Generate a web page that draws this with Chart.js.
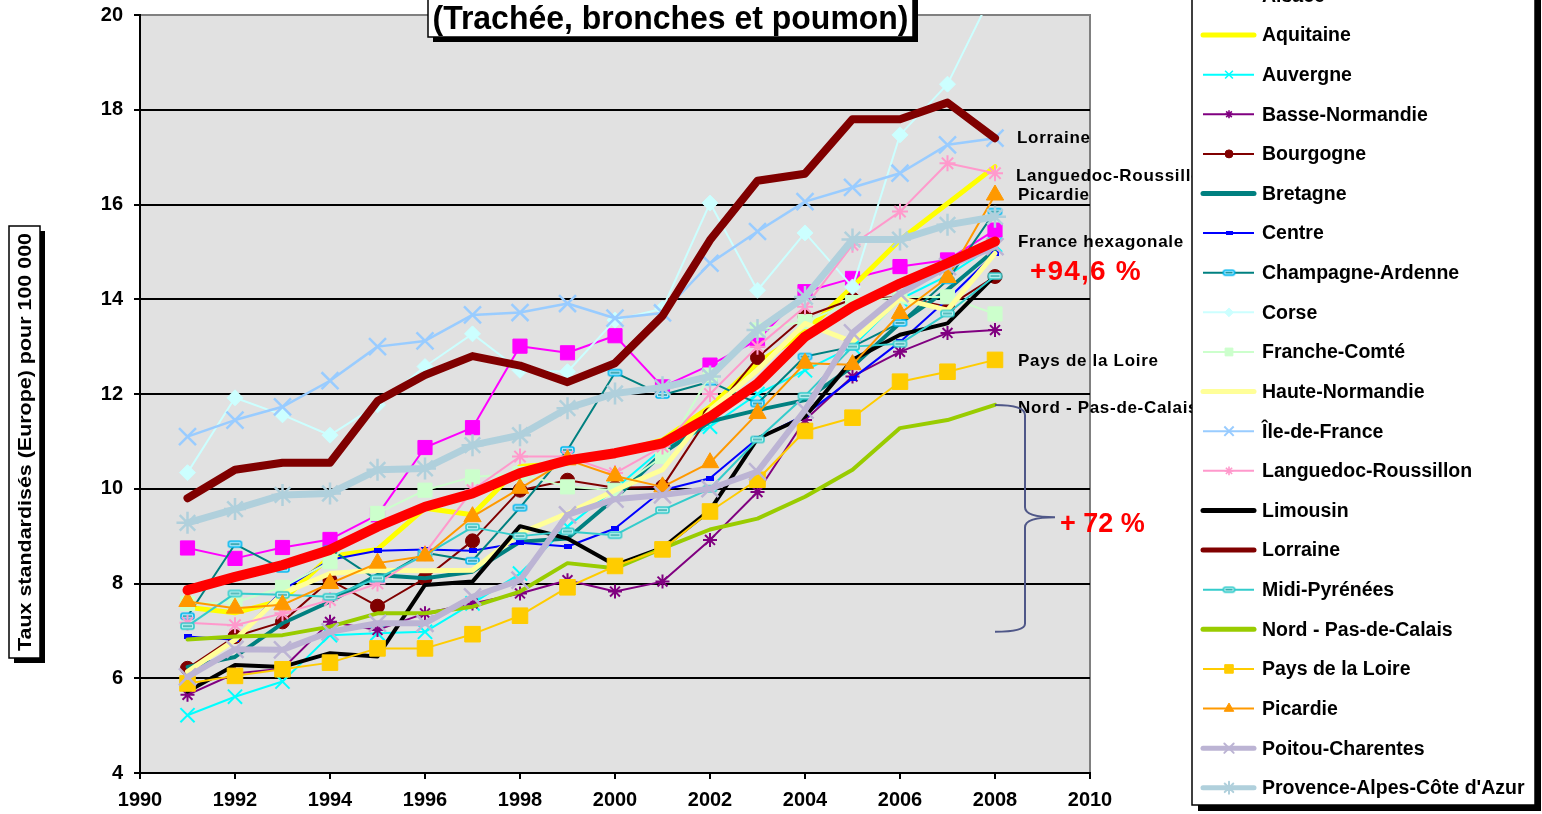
<!DOCTYPE html>
<html><head><meta charset="utf-8">
<script src="https://cdn.jsdelivr.net/npm/chart.js@4.4.1/dist/chart.umd.min.js"></script>
<style>html,body{margin:0;padding:0;background:#fff;overflow:hidden}canvas{display:block}</style>
</head><body>
<canvas id="c" width="1542" height="814"></canvas>
<script>
// ---------- DATA ----------
const years = [1991,1992,1993,1994,1995,1996,1997,1998,1999,2000,2001,2002,2003,2004,2005,2006,2007,2008];
const xTickValues = [1990,1992,1994,1996,1998,2000,2002,2004,2006,2008,2010];
const yTickValues = [4,6,8,10,12,14,16,18,20];

const alsace         = [8.75,8.53,8.76,8.93,9.45,10.87,11.29,13.01,12.87,13.23,12.15,12.61,13.14,14.16,14.44,14.69,14.83,15.46];
const aquitaine      = [7.5,7.38,7.65,8.57,8.72,9.59,9.45,10.47,10.54,10.75,11.03,11.73,12.65,13.31,14.26,15.25,16.02,16.8];
const auvergne       = [5.22,5.61,5.93,6.91,6.95,6.98,7.58,8.21,9.2,10.0,10.85,11.31,12.0,12.5,13.0,14.0,14.5,15.15];
const basseNormandie = [5.65,6.1,6.2,7.19,7.02,7.37,7.58,7.79,8.07,7.83,8.04,8.92,9.93,11.45,12.37,12.89,13.29,13.35];
const bourgogne      = [6.21,6.88,7.19,8.07,7.52,8.11,8.9,9.97,10.18,10.02,10.04,11.56,12.77,13.63,14.0,14.05,13.84,14.48];
const bretagne       = [6.24,6.45,7.16,7.62,8.18,8.11,8.25,8.88,8.95,9.8,10.75,11.42,11.66,11.87,12.58,13.5,14.2,15.04];
const centre         = [6.88,6.81,7.86,8.5,8.69,8.72,8.69,8.86,8.78,9.16,9.97,10.22,11.06,11.56,12.33,13.1,14.0,14.97];
const champagne      = [7.31,8.83,8.31,8.73,8.07,8.65,8.48,9.6,10.82,12.45,11.98,12.26,11.8,12.79,13.0,13.5,14.4,15.85];
const corse          = [10.34,11.92,11.56,11.13,11.77,12.58,13.27,12.5,12.47,13.56,13.8,16.03,14.19,15.4,14.26,17.47,18.54,20.57];
const francheComte   = [7.58,7.6,7.92,8.46,9.48,9.97,10.25,10.32,10.04,9.97,10.68,12.4,13.35,13.53,13.93,14.05,14.05,13.69];
const hauteNormandie = [6.14,6.81,7.79,8.21,8.28,8.27,8.28,9.06,9.48,9.97,10.4,11.66,12.5,13.49,13.1,14.02,13.77,14.97];
const ileDeFrance    = [11.1,11.45,11.73,12.28,13.0,13.12,13.67,13.72,13.91,13.6,13.71,14.76,15.43,16.06,16.36,16.66,17.26,17.4];
const languedoc      = [7.17,7.12,7.37,7.65,8.0,8.64,9.97,10.68,10.68,10.33,10.89,12.0,13.0,13.84,15.15,15.85,16.87,16.66];
const limousin       = [5.72,6.28,6.24,6.53,6.46,7.97,8.04,9.21,8.95,8.39,8.75,9.55,11.06,11.52,12.72,13.25,13.49,14.5];
const lorraine       = [9.8,10.4,10.55,10.55,11.85,12.4,12.8,12.6,12.25,12.65,13.65,15.25,16.5,16.65,17.8,17.8,18.15,17.4];
const midiPyrenees   = [7.1,7.79,7.76,7.72,8.11,8.6,9.19,9.0,9.1,9.02,9.55,10.0,11.04,11.96,13.0,13.06,13.7,14.49];
const nordPasDeCalais= [6.82,6.88,6.91,7.09,7.37,7.37,7.51,7.83,8.43,8.32,8.74,9.14,9.37,9.83,10.4,11.28,11.45,11.77];
const paysDeLaLoire  = [5.89,6.05,6.19,6.33,6.63,6.63,6.93,7.32,7.92,8.37,8.72,9.52,10.19,11.22,11.5,12.26,12.47,12.72];
const picardie       = [7.62,7.48,7.55,8.0,8.43,8.58,9.41,10.01,10.61,10.27,10.04,10.55,11.59,12.65,12.62,13.7,14.46,16.2];
const poitou         = [6.03,6.61,6.6,6.98,7.16,7.16,7.72,8.07,9.45,9.78,9.87,10.0,10.36,11.66,13.29,14.12,14.69,15.11];
const paca           = [9.28,9.57,9.87,9.9,10.4,10.43,10.92,11.13,11.7,12.01,12.14,12.37,13.35,14.05,15.26,15.26,15.57,15.74];
const franceHex      = [7.86,8.14,8.39,8.71,9.2,9.62,9.9,10.33,10.6,10.75,10.96,11.52,12.22,13.21,13.84,14.33,14.76,15.22];

const seriesNames = ['Alsace','Aquitaine','Auvergne','Basse-Normandie','Bourgogne','Bretagne','Centre','Champagne-Ardenne','Corse','Franche-Comté','Haute-Normandie','Île-de-France','Languedoc-Roussillon','Limousin','Lorraine','Midi-Pyrénées','Nord - Pas-de-Calais','Pays de la Loire','Picardie','Poitou-Charentes',"Provence-Alpes-Côte d'Azur",'France hexagonale'];
const seriesValues = [alsace,aquitaine,auvergne,basseNormandie,bourgogne,bretagne,centre,champagne,corse,francheComte,hauteNormandie,ileDeFrance,languedoc,limousin,lorraine,midiPyrenees,nordPasDeCalais,paysDeLaLoire,picardie,poitou,paca,franceHex];

// ---------- STYLES ----------
function dashMarker(outline, fill, inner, w, h){
  const c=document.createElement('canvas'); c.width=w+4; c.height=h+4;
  const g=c.getContext('2d');
  g.fillStyle=fill; g.strokeStyle=outline; g.lineWidth=1.6;
  g.beginPath(); g.roundRect(2,2,w,h,2); g.fill(); g.stroke();
  g.strokeStyle=inner; g.lineWidth=1.2; g.beginPath(); g.moveTo(4,2+h/2); g.lineTo(w,2+h/2); g.stroke();
  return c;
}
function solidMarker(fill,w,h){
  const c=document.createElement('canvas'); c.width=w; c.height=h;
  const g=c.getContext('2d'); g.fillStyle=fill; g.fillRect(0,0,w,h); return c;
}
const champMk = dashMarker('#00B8F0','#A8E8FF','#008080',13,6);
const midiMk  = dashMarker('#33CCCC','#B8F0F0','#1A9999',13,6);
const centreMk= solidMarker('#0000FF',8,5);
const champMkS = dashMarker('#00B8F0','#A8E8FF','#008080',11,5);
const midiMkS  = dashMarker('#33CCCC','#B8F0F0','#1A9999',11,5);
const centreMkS= solidMarker('#0000FF',7,4);

// [color, lineWidth, pointStyle, radius, pointFill, pointBorderWidth]
const seriesStyles = [
  ['#FF00FF',2,'rect',10,'#FF00FF',1],
  ['#FFFF00',5,false,0,null,0],
  ['#00FFFF',2,'crossRot',10,'#00FFFF',2],
  ['#800080',2,'star',7,'#800080',2],
  ['#800000',2,'circle',7,'#800000',1],
  ['#008080',4,false,0,null,0],
  ['#0000FF',2,centreMk,4,'#0000FF',1],
  ['#008080',2,champMk,6,'#00CCFF',1],
  ['#CCFFFF',2,'rectRot',8,'#CCFFFF',1],
  ['#CCFFCC',2,'rect',10,'#CCFFCC',1],
  ['#FFFF99',5,false,0,null,0],
  ['#99CCFF',2.5,'crossRot',12,'#99CCFF',2.5],
  ['#FF99CC',2,'star',8,'#FF99CC',2],
  ['#000000',4,false,0,null,0],
  ['#800000',8,false,0,null,0],
  ['#33CCCC',2,midiMk,6,'#33CCCC',1],
  ['#99CC00',4,false,0,null,0],
  ['#FFCC00',2,'rect',11,'#FFCC00',1],
  ['#FF9900',2,'triangle',10,'#FF9900',1],
  ['#BCB4D4',6,'crossRot',12,'#BCB4D4',2.5],
  ['#B0D0DC',7,'star',11,'#B0D0DC',2.5],
  ['#FF0000',10,false,0,null,0]
];
const legendSmallImg = {6:centreMkS,7:champMkS,15:midiMkS};

const FONT = '"Liberation Sans", Arial, sans-serif';
const N = seriesNames.length;
const datasets = seriesNames.map((name,i)=>{
  const s = seriesStyles[i];
  return {
    label:name,
    data: years.map((yr,j)=>({x:yr,y:seriesValues[i][j]})),
    borderColor:s[0], borderWidth:s[1], backgroundColor:s[4]||s[0],
    pointStyle:s[2]||'circle', pointRadius:s[2]?s[3]:0, pointHoverRadius:s[2]?s[3]:0,
    pointBackgroundColor:s[4]||s[0], pointBorderColor:s[4]||s[0], pointBorderWidth:s[5],
    tension:0, fill:false, borderJoinStyle:'round', borderCapStyle:'round',
    order: (i===N-1)?0:(N-i)
  };
});

// ---------- PLUGINS ----------
const bgPlugin = {
  id:'bg',
  beforeDraw(chart){
    const {ctx, chartArea:a} = chart;
    ctx.save();
    ctx.fillStyle='#fff'; ctx.fillRect(0,0,chart.width,chart.height);
    ctx.fillStyle='#E1E1E1'; ctx.fillRect(a.left,a.top,a.right-a.left,a.bottom-a.top);
    ctx.strokeStyle='#808080'; ctx.lineWidth=2;
    ctx.beginPath(); ctx.moveTo(a.left,a.top); ctx.lineTo(a.right,a.top); ctx.lineTo(a.right,a.bottom); ctx.stroke();
    ctx.restore();
  }
};

function drawMarker(ctx, style, x, y, r, fill, bw, img){
  if (img){ ctx.drawImage(img, x-img.width/2, y-img.height/2); return; }
  ctx.save();
  ctx.fillStyle=fill; ctx.strokeStyle=fill; ctx.lineWidth=bw;
  if (Chart.helpers && Chart.helpers.drawPoint){
    Chart.helpers.drawPoint(ctx,{pointStyle:style,rotation:0,radius:r,borderWidth:bw},x,y);
  }
  ctx.restore();
}

const overlayPlugin = {
  id:'overlay',
  afterDraw(chart){
    const {ctx} = chart;
    const xs = chart.scales.x, ys = chart.scales.y;
    const last = years.length-1;
    const xEnd = xs.getPixelForValue(years[last]);
    ctx.save();
    // right-hand labels
    ctx.font = 'bold 17px '+FONT; ctx.fillStyle='#000'; ctx.textBaseline='middle'; ctx.textAlign='left';
    try{ ctx.letterSpacing='0.7px'; }catch(e){}
    const labs = [['Lorraine',lorraine,0,22],['Languedoc-Roussillon',languedoc,3,21],['Picardie',picardie,0,23],
                  ['France hexagonale',franceHex,1,23],['Pays de la Loire',paysDeLaLoire,1,23],['Nord - Pas-de-Calais',nordPasDeCalais,3,23]];
    labs.forEach(([t,arr,dy,dx])=>{ ctx.fillText(t, xEnd+dx, ys.getPixelForValue(arr[last])+dy); });
    // percentages
    ctx.font='bold 28px '+FONT; ctx.fillStyle='#FF0000';
    try{ ctx.letterSpacing='1.2px'; }catch(e){}
    ctx.fillText('+94,6 %', xEnd+35, ys.getPixelForValue(franceHex[last])+31);
    try{ ctx.letterSpacing='0px'; }catch(e){}
    ctx.font='bold 27px '+FONT;
    ctx.fillText('+ 72 %', xEnd+65, ys.getPixelForValue(9.25));
    // brace
    const yTop = ys.getPixelForValue(nordPasDeCalais[last]);
    const yBot = ys.getPixelForValue(6.98);
    const yMid = ys.getPixelForValue(9.4);
    const bx = xEnd+30;
    ctx.strokeStyle='#4F5788'; ctx.lineWidth=2;
    ctx.beginPath();
    ctx.moveTo(xEnd, yTop);
    ctx.quadraticCurveTo(bx, yTop, bx, yTop+10);
    ctx.lineTo(bx, yMid-10);
    ctx.quadraticCurveTo(bx, yMid, bx+30, yMid);
    ctx.quadraticCurveTo(bx, yMid, bx, yMid+10);
    ctx.lineTo(bx, yBot-8);
    ctx.quadraticCurveTo(bx, yBot, xEnd, yBot);
    ctx.stroke();

    // legend box
    const lx=1192, lw=343, ltop=-12, lbot=805;
    ctx.fillStyle='#000'; ctx.fillRect(lx+6, ltop, lw, lbot-ltop+6);
    ctx.fillStyle='#fff'; ctx.fillRect(lx, ltop, lw, lbot-ltop);
    ctx.strokeStyle='#000'; ctx.lineWidth=1.5; ctx.strokeRect(lx, ltop, lw, lbot-ltop);
    ctx.font='bold 19.5px '+FONT; ctx.textBaseline='middle'; ctx.textAlign='left';
    const rowH = 39.62, row0 = -4.6;
    for (let i=0;i<N-1;i++){
      const yy = row0 + i*rowH;
      const s = seriesStyles[i];
      ctx.strokeStyle=s[0]; ctx.lineWidth = s[1]>=4 ? 5 : 2; ctx.lineCap = s[1]>=4?'round':'butt';
      ctx.beginPath(); ctx.moveTo(1203,yy); ctx.lineTo(1254,yy); ctx.stroke();
      if (s[2]) drawMarker(ctx, s[2], 1229, yy, Math.max(4, s[3]*0.55), s[4], Math.max(1,s[5]*0.8), legendSmallImg[i]);
      ctx.fillStyle='#000';
      const tw = ctx.measureText(seriesNames[i]).width;
      ctx.save(); ctx.translate(1262, yy+1);
      if (tw > 266) ctx.scale(266/tw, 1);
      ctx.fillText(seriesNames[i], 0, 0); ctx.restore();
    }

    // title box
    ctx.font='bold 33px '+FONT;
    const title='(Trachée, bronches et poumon)';
    const tx0=428, tx1=913, tyb=37;
    ctx.fillStyle='#000'; ctx.fillRect(tx0+5, -10, tx1-tx0, tyb+15);
    ctx.fillStyle='#fff'; ctx.fillRect(tx0, -10, tx1-tx0, tyb+10);
    ctx.strokeStyle='#000'; ctx.lineWidth=1.5; ctx.strokeRect(tx0, -10, tx1-tx0, tyb+10);
    ctx.fillStyle='#000'; ctx.textAlign='center'; ctx.textBaseline='alphabetic';
    const tw = ctx.measureText(title).width, maxw = 476;
    ctx.save(); ctx.translate((tx0+tx1)/2, 29);
    ctx.scale(maxw/tw,1);
    ctx.fillText(title,0,0); ctx.restore();

    // y title box
    const bx0=9, bx1=40, by0=226, by1=658;
    ctx.fillStyle='#000'; ctx.fillRect(bx0+5, by0+5, bx1-bx0, by1-by0);
    ctx.fillStyle='#fff'; ctx.fillRect(bx0, by0, bx1-bx0, by1-by0);
    ctx.strokeStyle='#000'; ctx.lineWidth=1.5; ctx.strokeRect(bx0, by0, bx1-bx0, by1-by0);
    ctx.font='bold 19px '+FONT;
    const yt='Taux standardisés (Europe) pour 100 000';
    const yw = ctx.measureText(yt).width, ymax = 418;
    ctx.save(); ctx.translate((bx0+bx1)/2+1, (by0+by1)/2); ctx.rotate(-Math.PI/2);
    ctx.textAlign='center'; ctx.textBaseline='middle'; ctx.fillStyle='#000';
    ctx.scale(ymax/yw,1);
    ctx.fillText(yt,0,0); ctx.restore();
    ctx.restore();
  }
};

// ---------- CHART ----------
new Chart(document.getElementById('c'), {
  type:'line',
  data:{datasets},
  options:{
    responsive:false, animation:false, devicePixelRatio:1,
    layout:{padding:{top:15,right:452,left:0,bottom:0}},
    plugins:{legend:{display:false}, tooltip:{enabled:false}},
    events:[],
    scales:{
      x:{type:'linear', min:1990, max:2010,
        afterFit(s){ s.height=41; s.paddingLeft=0; s.paddingRight=0; },
        afterBuildTicks(s){ s.ticks = xTickValues.map(v=>({value:v})); },
        ticks:{callback:v=>String(v), color:'#000', font:{family:FONT, size:20, weight:'bold'}, padding:9, maxRotation:0, autoSkip:false},
        grid:{drawOnChartArea:false, drawTicks:true, tickLength:6, color:'#000', lineWidth:2},
        border:{color:'#000', width:2}
      },
      y:{min:4, max:20,
        afterFit(s){ s.width=140; s.paddingTop=0; s.paddingBottom=0; },
        afterBuildTicks(s){ s.ticks = yTickValues.map(v=>({value:v})); },
        ticks:{color:'#000', font:{family:FONT, size:20, weight:'bold'}, padding:11},
        grid:{color:c=>c.tick && c.tick.value===20 ? 'rgba(0,0,0,0)' : '#000', lineWidth:2, tickLength:6, drawTicks:true,
              tickColor:'#000'},
        border:{color:'#000', width:2}
      }
    }
  },
  plugins:[bgPlugin, overlayPlugin]
});
</script>
</body></html>
